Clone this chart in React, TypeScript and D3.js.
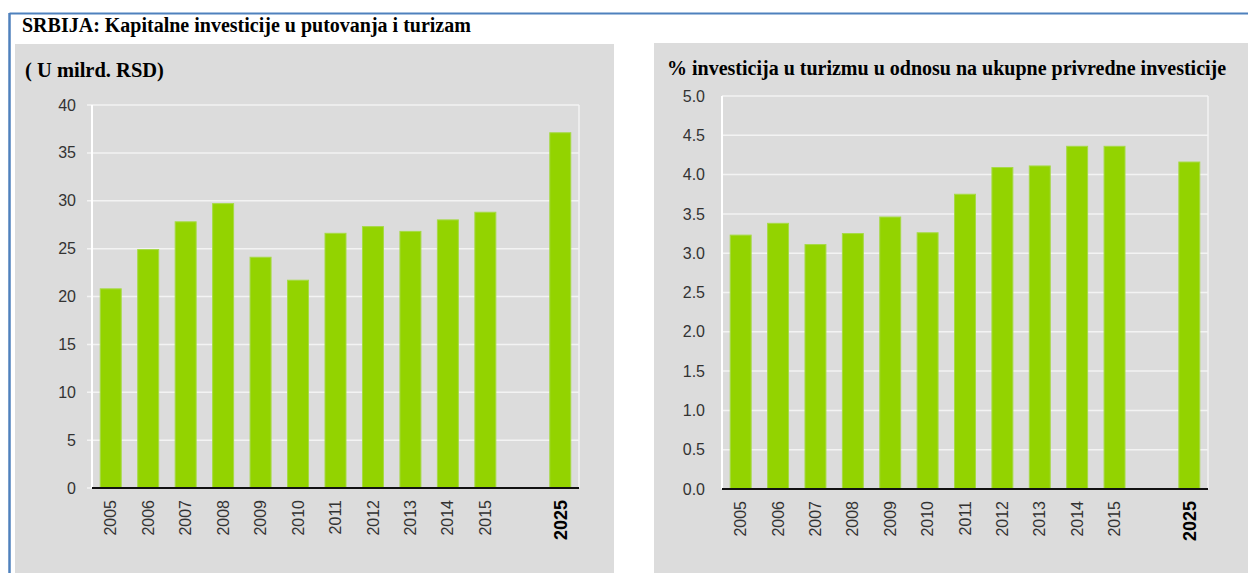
import React from "react";
import * as d3 from "d3";

const categories = ["2005", "2006", "2007", "2008", "2009", "2010", "2011", "2012", "2013", "2014", "2015", "", "2025"];
const investValues = [20.8, 24.9, 27.8, 29.7, 24.1, 21.7, 26.6, 27.3, 26.8, 28.0, 28.8, null, 37.1];
const shareValues = [3.23, 3.38, 3.11, 3.25, 3.46, 3.26, 3.75, 4.09, 4.11, 4.36, 4.36, null, 4.16];
const investTicks = [0, 5, 10, 15, 20, 25, 30, 35, 40];
const shareTicks = [0, 0.5, 1, 1.5, 2, 2.5, 3, 3.5, 4, 4.5, 5];

const mainTitle = "SRBIJA: Kapitalne investicije u putovanja i turizam";
const leftSubtitle = "( U milrd. RSD)";
const rightTitle = "% investicija u turizmu u odnosu na ukupne privredne investicije";

const BAR = "#93d300";
const BAR_EDGE = "#a6da45";
const BG = "#dcdcdc";
const GRID = "#f3f3f3";
const SERIF = "Liberation Serif, Times New Roman, serif";
const SANS = "Liberation Sans, Arial, sans-serif";

type ChartProps = {
  x0: number; x1: number; yTop: number; yZero: number;
  values: (number | null)[]; ticks: number[]; max: number;
  fmt: (v: number) => string; labelGap: number; tickLen: number;
};

function BarChart({ x0, x1, yTop, yZero, values, ticks, max, fmt, labelGap, tickLen }: ChartProps) {
  const keys = categories.map((c, i) => c || "gap" + i);
  const x = d3.scaleBand<string>().domain(keys).range([x0, x1]).paddingInner(0.44).paddingOuter(0.22);
  const y = d3.scaleLinear().domain([0, max]).range([yZero, yTop]);
  return (
    <g>
      {ticks.map((t) => (
        <g key={t}>
          <line x1={x0 - tickLen} x2={x1} y1={y(t)} y2={y(t)} stroke={GRID} strokeWidth={1.5} />
          <text x={x0 - labelGap} y={y(t)} dy="0.35em" textAnchor="end" fontFamily={SANS} fontSize={16} fill="#333">{fmt(t)}</text>
        </g>
      ))}
      <line x1={x1} x2={x1} y1={yTop} y2={yZero} stroke={GRID} strokeWidth={1.5} />
      <line x1={x0} x2={x0} y1={yTop} y2={yZero} stroke="#ffffff" strokeWidth={2} />
      {values.map((v, i) => v == null ? null : (
        <rect key={i} x={x(keys[i])!} width={x.bandwidth()} y={y(v)} height={yZero - y(v)} fill={BAR} stroke={BAR_EDGE} strokeWidth={1} />
      ))}
      <line x1={x0} x2={x1} y1={yZero} y2={yZero} stroke="#111" strokeWidth={2} />
      {categories.map((c, i) => c === "" ? null : (
        <text key={c} transform={`translate(${x(keys[i])! + x.bandwidth() / 2},${yZero + 12}) rotate(-90)`} dy="0.35em" textAnchor="end"
          fontFamily={SANS} fontSize={c === "2025" ? 18 : 16} fontWeight={c === "2025" ? "bold" : "normal"} fill={c === "2025" ? "#000" : "#333"}>{c}</text>
      ))}
    </g>
  );
}

export default function App() {
  const f1 = d3.format("d");
  const f2 = d3.format(".1f");
  return (
    <svg width={1248} height={573} style={{ position: "absolute", left: 0, top: 0, background: "#fff" }}>
      <line x1={9.5} x2={1248} y1={13.5} y2={13.5} stroke="#4f81bd" strokeWidth={2} />
      <line x1={9.5} x2={9.5} y1={13} y2={573} stroke="#4f81bd" strokeWidth={2.5} />
      <text x={22} y={32} fontFamily={SERIF} fontWeight="bold" fontSize={20} fill="#000">{mainTitle}</text>
      <rect x={15} y={44} width={599} height={529} fill={BG} />
      <rect x={654} y={43} width={594} height={530} fill={BG} />
      <text x={25} y={77} fontFamily={SERIF} fontWeight="bold" fontSize={20.5} fill="#000">{leftSubtitle}</text>
      <text x={667} y={75} fontFamily={SERIF} fontWeight="bold" fontSize={20} fill="#000">{rightTitle}</text>
      <BarChart x0={92} x1={579} yTop={105} yZero={488} values={investValues} ticks={investTicks} max={40} fmt={f1} labelGap={16} tickLen={5} />
      <BarChart x0={722} x1={1208} yTop={96} yZero={489} values={shareValues} ticks={shareTicks} max={5} fmt={f2} labelGap={17} tickLen={0} />
    </svg>
  );
}
